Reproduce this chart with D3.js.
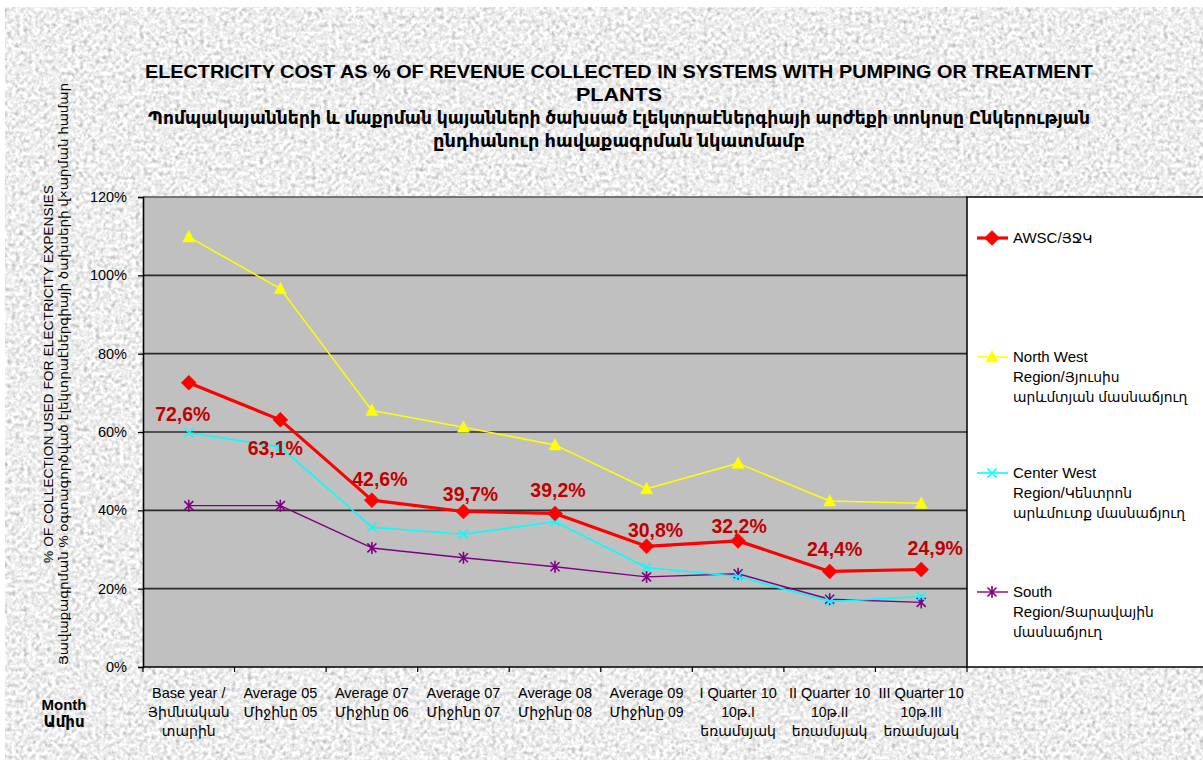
<!DOCTYPE html>
<html>
<head>
<meta charset="utf-8">
<script src="https://cdn.jsdelivr.net/npm/d3@7"></script>
<style>
  html, body { margin: 0; padding: 0; background: #ffffff; }
  svg { display: block; }
  text { font-family: "Liberation Sans", Arial, "DejaVu Sans", sans-serif; }
</style>
</head>
<body>
<svg id="chart" width="1203" height="760"></svg>
<script>
// ---------------- DATA ----------------
const categories = ["c1","c2","c3","c4","c5","c6","c7","c8","c9"];
const categoryLabels = [
  ["Base year /", "Յիմնական", "տարին"],
  ["Average 05", "Միջինը 05"],
  ["Average 07", "Միջինը 06"],
  ["Average 07", "Միջինը 07"],
  ["Average 08", "Միջինը 08"],
  ["Average 09", "Միջինը 09"],
  ["I Quarter 10", "10թ.I", "եռամսյակ"],
  ["II Quarter  10", "10թ.II", "եռամսյակ"],
  ["III Quarter 10", "10թ.III", "եռամսյակ"]
];
const awsc      = [72.6, 63.1, 42.6, 39.7, 39.2, 30.8, 32.2, 24.4, 24.9];
const northWest = [109.8, 96.6, 65.5, 61.2, 56.7, 45.5, 52.0, 42.4, 41.8];
const centerWest= [59.8, 56.2, 35.7, 33.9, 37.1, 25.4, 23.1, 16.7, 18.0];
const south     = [41.2, 41.2, 30.4, 27.9, 25.6, 23.0, 23.8, 17.3, 16.5];
const awscLabels = ["72,6%","63,1%","42,6%","39,7%","39,2%","30,8%","32,2%","24,4%","24,9%"];
const yTicks = [0, 20, 40, 60, 80, 100, 120];

const seriesNames = [
  ["AWSC/ՅՋԿ"],
  ["North West", "Region/Յյուսիս", "արևմտյան մասնաճյուղ"],
  ["Center West", "Region/Կենտրոն", "արևմուտք մասնաճյուղ"],
  ["South", "Region/Յարավային", "մասնաճյուղ"]
];

const titleLines = [
  "ELECTRICITY COST AS % OF REVENUE COLLECTED IN SYSTEMS WITH PUMPING OR TREATMENT",
  "PLANTS",
  "Պոմպակայանների և մաքրման կայանների ծախսած էլեկտրաէներգիայի արժեքի տոկոսը Ընկերության",
  "ընդհանուր հավաքագրման նկատմամբ"
];
const yTitleLines = [
  "% OF COLLECTION USED FOR ELECTRICITY EXPENSIES",
  "Յավաքագրման % օգտագործված էլեկտրաէներգիայի ծախսերի վ×արման համար"
];
const xTitleLines = ["Month", "Ամիս"];

// label placement offsets relative to their points (layout only)
const labelDx = [-6, -5, 8, 7, 3, 9, 1, 5, 14];
const labelDy = [38, 35, -14, -11, -16, -9, -8, -15, -14];

// ---------------- LAYOUT ----------------
const svg = d3.select("#chart");
const W = 1203, H = 760;
const plot = { left: 143, right: 967, top: 197, bottom: 667 };
const armRe = /[\u0530-\u058F]/;
// split a string into runs of Armenian / non-Armenian characters
function runs(s) {
  const out = [];
  for (const ch of s) {
    const a = armRe.test(ch) || (ch === " " && out.length && out[out.length - 1].arm);
    if (out.length && out[out.length - 1].arm === a) out[out.length - 1].t += ch;
    else out.push({ t: ch, arm: a });
  }
  return out;
}
function addLine(textSel, str, xPos, yPos, baseSize, armSize) {
  runs(str).forEach((r, j) => {
    const ts = textSel.append("tspan").attr("font-size", r.arm ? armSize : baseSize).text(r.t);
    if (j === 0) ts.attr("x", xPos).attr("y", yPos);
  });
}

// textured background
const defs = svg.append("defs");
const f = defs.append("filter").attr("id","granite").attr("x",0).attr("y",0).attr("width","100%").attr("height","100%")
  .attr("color-interpolation-filters","sRGB");
f.append("feTurbulence").attr("type","fractalNoise").attr("baseFrequency","0.25").attr("numOctaves",4).attr("seed",7).attr("result","n");
f.append("feColorMatrix").attr("in","n").attr("type","matrix")
  .attr("values","0.28 0.28 0.28 0 0.51  0.28 0.28 0.28 0 0.51  0.28 0.28 0.28 0 0.51  0 0 0 0 1");
svg.append("rect").attr("x",0).attr("y",0).attr("width",W).attr("height",H).attr("fill","#ffffff");
svg.append("rect").attr("x",5).attr("y",7).attr("width",W-5).attr("height",H-7).attr("filter","url(#granite)");

const x = d3.scaleBand().domain(categories).range([plot.left, plot.right]).paddingInner(0).paddingOuter(0);
const xc = c => x(c) + x.bandwidth() / 2;
const y = d3.scaleLinear().domain([0, 120]).range([plot.bottom, plot.top]);

// plot area
svg.append("rect").attr("x", plot.left).attr("y", plot.top)
  .attr("width", plot.right - plot.left).attr("height", plot.bottom - plot.top).attr("fill", "#c0c0c0");

// gridlines
svg.append("g").selectAll("line").data(yTicks.filter(t => t > 0)).join("line")
  .attr("x1", plot.left).attr("x2", plot.right)
  .attr("y1", d => y(d)).attr("y2", d => y(d))
  .attr("stroke", d => d === 120 ? "#555" : "#2a2a2a").attr("stroke-width", 1.6);

// y axis
const yAxis = svg.append("g").attr("transform", `translate(${plot.left},0)`)
  .call(d3.axisLeft(y).tickValues(yTicks).tickSize(5).tickPadding(11).tickFormat(d => d + "%"));
yAxis.select(".domain").attr("stroke", "#000").attr("stroke-width", 1.6);
yAxis.selectAll(".tick line").attr("stroke", "#000").attr("stroke-width", 1.2);
yAxis.selectAll(".tick text").attr("font-size", 14.5).attr("fill", "#000")
  .attr("font-family", "'Liberation Sans', Arial, sans-serif");

// x axis (ticks at category boundaries)
const boundaries = categories.map(c => x(c)).concat([plot.right]);
svg.append("line").attr("x1", plot.left).attr("x2", plot.right).attr("y1", plot.bottom).attr("y2", plot.bottom)
  .attr("stroke", "#000").attr("stroke-width", 1.6);
svg.append("g").selectAll("line").data(boundaries).join("line")
  .attr("x1", d => d).attr("x2", d => d).attr("y1", plot.bottom).attr("y2", plot.bottom + 5)
  .attr("stroke", "#000").attr("stroke-width", 1.2);

// x labels
const xl = svg.append("g").selectAll("text").data(categories).join("text")
  .attr("x", d => xc(d)).attr("y", 698).attr("text-anchor", "middle").attr("font-size", 14.5).attr("fill", "#000");
xl.each(function(d, i) {
  const t = d3.select(this);
  categoryLabels[i].forEach((s, k) => {
    t.append("tspan").attr("x", xc(d)).attr("y", 698 + k * 19)
      .attr("font-size", armRe.test(s) ? 14 : 14.5).text(s);
  });
});

// x title
svg.append("g").selectAll("text").data(xTitleLines).join("text")
  .attr("x", 64).attr("y", (d, i) => 710 + i * 17).attr("text-anchor", "middle")
  .attr("font-size", 15).attr("font-weight", "bold").attr("fill", "#000").text(d => d);

// y title
svg.append("g").selectAll("text").data(yTitleLines).join("text")
  .attr("transform", (d, i) => `translate(${53 + i * 15},374) rotate(-90)`)
  .attr("text-anchor", "middle").attr("font-size", 13).attr("fill", "#000")
  .attr("textLength", (d, i) => i === 0 ? 378 : 582).attr("lengthAdjust", "spacingAndGlyphs")
  .text(d => d);

// title
const titleY = [78, 101, 124, 147];
const titleLen = [948, 86, 942, 372];
svg.append("g").selectAll("text").data(titleLines).join("text")
  .attr("x", 619).attr("y", (d, i) => titleY[i]).attr("text-anchor", "middle")
  .attr("font-size", 18).attr("font-weight", "bold").attr("fill", "#000")
  .attr("textLength", (d, i) => titleLen[i]).attr("lengthAdjust", "spacingAndGlyphs")
  .text(d => d);

// markers
const diamond = "M0,-7.5L7.5,0L0,7.5L-7.5,0Z";
const triangle = "M0,-6.5L6,5L-6,5Z";
const cross = "M-4.5,-4.5L4.5,4.5M-4.5,4.5L4.5,-4.5";
const star = "M-4.5,-4.5L4.5,4.5M-4.5,4.5L4.5,-4.5M0,-6L0,6";

const seriesDefs = [
  { values: awsc, color: "#ff0000", width: 3.2, marker: diamond, fillMarker: true },
  { values: northWest, color: "#ffff00", width: 1.5, marker: triangle, fillMarker: true },
  { values: centerWest, color: "#00ffff", width: 1.6, marker: cross, fillMarker: false },
  { values: south, color: "#800080", width: 1.4, marker: star, fillMarker: false }
];
const drawOrder = [3, 2, 1, 0];
const line = d3.line().x((d, i) => xc(categories[i])).y(d => y(d));

drawOrder.forEach(si => {
  const s = seriesDefs[si];
  const g = svg.append("g");
  g.append("path").datum(s.values).attr("d", line).attr("fill", "none")
    .attr("stroke", s.color).attr("stroke-width", s.width).attr("stroke-linejoin", "round");
  g.selectAll("path.m").data(s.values).join("path").attr("class", "m")
    .attr("transform", (d, i) => `translate(${xc(categories[i])},${y(d)})`)
    .attr("d", s.marker)
    .attr("fill", s.fillMarker ? s.color : "none")
    .attr("stroke", s.color).attr("stroke-width", s.fillMarker ? 0.5 : 1.6);
});

// data labels
svg.append("g").selectAll("text").data(awsc).join("text")
  .attr("x", (d, i) => xc(categories[i]) + labelDx[i])
  .attr("y", (d, i) => y(d) + labelDy[i])
  .attr("text-anchor", "middle").attr("font-size", 19.5).attr("font-weight", "bold")
  .attr("fill", "#c00000").text((d, i) => awscLabels[i]);

// legend
const lg = svg.append("g");
lg.append("rect").attr("x", plot.right).attr("y", plot.top).attr("width", W - plot.right + 5)
  .attr("height", plot.bottom - plot.top).attr("fill", "#fff").attr("stroke", "#000").attr("stroke-width", 1.5);
const legendY = [238, 357, 473, 592];
seriesDefs.forEach((s, si) => {
  const yy = legendY[si];
  lg.append("line").attr("x1", 977).attr("x2", 1008).attr("y1", yy).attr("y2", yy)
    .attr("stroke", s.color).attr("stroke-width", s.width);
  lg.append("path").attr("transform", `translate(992,${yy})`).attr("d", s.marker)
    .attr("fill", s.fillMarker ? s.color : "none").attr("stroke", s.color)
    .attr("stroke-width", s.fillMarker ? 0.5 : 1.6);
  const t = lg.append("text").attr("fill", "#000");
  seriesNames[si].forEach((str, k) => addLine(t, str, 1013, yy + 5 + k * 20, 15, 13.8));
});
</script>
</body>
</html>
